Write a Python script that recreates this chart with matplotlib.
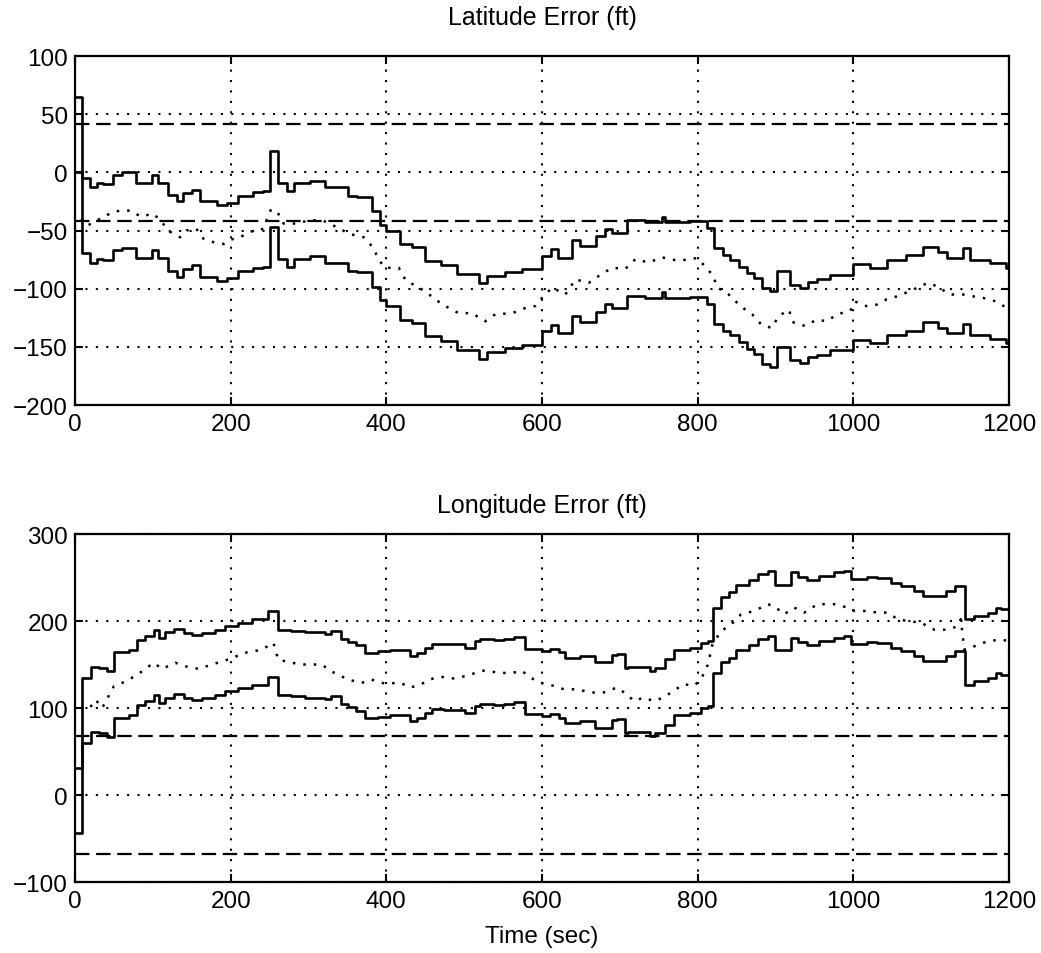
import numpy as np
import matplotlib
matplotlib.use('Agg')
import matplotlib.pyplot as plt

plt.rcParams['font.family'] = ['Liberation Sans', 'DejaVu Sans']

# ---- latitude: filter estimate (step held), sigma band, true-ish error (dotted)
lat_t = [0, 8.6, 19, 28, 36, 49, 60, 79, 99, 107, 120, 131, 139, 150, 161, 182, 195,
         210, 229, 242, 251, 261, 272, 281, 302, 321, 351, 362, 381, 392, 399, 418, 433,
         450, 470, 491, 519, 529, 553, 574, 600, 611, 621, 638, 649, 670, 681, 690, 709,
         732, 754, 758, 790, 812, 820.5, 833, 842, 852.6, 863, 872, 882, 893, 902, 919,
         932, 942, 953, 970, 1000, 1021, 1043, 1068, 1090, 1109, 1120, 1141, 1150, 1175,
         1196, 1200]
lat_est = [32.5, -37, -45.5, -42, -42.5, -34.5, -32.5, -41.5, -34.5, -41.5, -52, -57.5,
           -50.5, -47.5, -57.5, -60.5, -58.5, -52.5, -49.5, -48.5, -14.5, -42, -48.5, -42,
           -39.5, -45.5, -52.5, -53.5, -66, -77.5, -82.5, -94, -97, -108.5, -112.5, -120,
           -128, -121.5, -118.5, -115.5, -104, -98.5, -106, -91, -96, -87.5, -81, -84.5,
           -73.5, -75.5, -70.5, -75.5, -74.5, -80.5, -97.5, -103.5, -107.5, -113.5, -119,
           -123.5, -132, -134.5, -117.5, -129, -131.5, -126.5, -124.5, -120.5, -111.5,
           -114.5, -107.5, -103.5, -96.5, -101, -106, -97.5, -107.5, -110.5, -114.5, -114.5]
lat_sig = 32.5
lat_lim = 41.5

lat_err_t = [8, 16, 32, 49, 60, 73, 84, 101, 109, 122, 135, 143, 156, 165, 178, 191, 199,
             212, 225, 242, 251, 259, 268, 285, 302, 319, 336, 353, 371, 383, 391, 399,
             416, 425, 442, 455, 472, 493, 510, 527, 540, 562, 579, 591, 600, 613, 630,
             643, 660, 673, 690, 707, 720, 737, 754, 775, 799, 810, 820, 825, 838, 855,
             870, 882, 895, 904, 917, 923, 938, 953, 966, 979, 996, 1002, 1017, 1030,
             1043, 1056, 1073, 1090, 1098, 1111, 1124, 1141, 1154, 1167, 1184, 1197]
lat_err = [-40, -45.8, -40, -34, -32.7, -33, -38, -35.5, -41, -51, -55.8, -50, -48.5, -57,
           -60, -61.6, -58, -55.8, -51, -48.5, -32.7, -32.7, -44, -44, -41, -41.5, -47,
           -53, -55.8, -64.5, -76, -82, -82, -93, -99, -105, -113.6, -121, -121, -128,
           -122, -121, -116.5, -115, -108, -99, -105, -92, -95, -89, -82, -83, -74.6,
           -77.5, -73, -76, -73.7, -81, -89, -99, -103.7, -115, -122, -131, -133.7,
           -123.7, -118, -129, -132, -126.6, -128, -122, -119, -111, -115, -113.7, -109,
           -106.6, -102, -96.6, -95, -99.4, -105, -105, -106.6, -108, -111, -116.6]

# ---- longitude
lon_t = [0, 8.5, 20, 30.7, 41.4, 50, 69, 80, 90.5, 101, 107.5, 116, 126.8, 139.6, 150,
         163, 180, 193, 210, 227, 248, 261, 278, 295, 321, 329.5, 342, 351, 361.5, 372,
         389, 405, 431, 439, 450, 458.7, 473.7, 501.5, 514, 520.8, 538, 550.7, 563.6,
         578.6, 600, 610.7, 621.4, 630, 649, 668.5, 690, 696, 707, 711, 739, 745.6,
         758.5, 769, 790.6, 804, 813, 820, 830, 840.7, 849, 866, 877, 890, 899, 920,
         928.5, 941, 956, 975.6, 988, 997, 1018, 1031, 1048, 1061, 1078, 1089, 1119,
         1130, 1143, 1155, 1172.6, 1183, 1190, 1200]
lon_est = [-6.5, 97, 109.5, 108.5, 104.5, 126.5, 129, 140.5, 145, 152.5, 143.5, 149.5,
           153.5, 149, 146.5, 149, 152.5, 156.5, 160.5, 164.5, 173.5, 152.5, 151, 149.5,
           148, 151, 142, 138.5, 134.5, 126, 127.5, 129.3, 122.5, 125.5, 131.5, 136,
           135.5, 131.5, 140, 142, 140.5, 142, 144, 130.5, 128.5, 130.5, 126.5, 120.5,
           122.5, 115, 123.5, 124.5, 108.5, 110, 105.5, 108.5, 118.5, 129.3, 131.5, 137.5,
           140, 178, 190.3, 195.3, 204, 209.5, 216.5, 220.5, 204, 218.5, 213.5, 209.5,
           214.5, 218.5, 220.5, 210.5, 213.5, 212.5, 206.5, 203, 197, 191.5, 197, 203,
           164.5, 168.3, 172, 178, 176, 176]
lon_sig = 37.5
lon_lim = 67.5

lon_err_t = [8, 18, 26.5, 35, 50, 60.6, 73, 86, 101, 112, 129, 141.7, 159, 176, 197, 218.5,
             240, 255, 261, 278, 295, 317, 329.5, 351, 368, 380.7, 398, 418, 431, 443.7,
             456.5, 469, 486.5, 503.6, 516.5, 525, 542, 559, 574, 585, 598, 615, 628, 645,
             662, 679, 696, 709, 718, 730.6, 743.5, 756, 769, 782, 795, 804, 813, 819, 830,
             843, 855.7, 873, 890, 898.5, 911, 924, 937, 954, 975.6, 992.7, 1001, 1014,
             1031, 1044, 1057, 1070, 1087, 1104, 1121, 1134, 1138, 1142.6, 1155.5, 1172.6,
             1190, 1198]
lon_err = [100, 98.8, 109.6, 100, 125, 128.8, 134.6, 142, 152, 145, 152, 148, 145, 150,
           155.8, 163.5, 167, 175, 155.8, 152, 150, 150, 142, 132.7, 128.8, 132.7, 128,
           129, 123.5, 127, 133, 136, 134, 137, 141, 142.9, 141, 139.8, 142.9, 135, 129,
           125.5, 121.6, 121.6, 117.8, 117.8, 123.5, 115.8, 108, 112, 108, 112, 119.7,
           127.4, 125.5, 132.4, 149.8, 173, 188.4, 196, 207.7, 211.6, 219.3, 217, 207.7,
           215.4, 209.7, 219.3, 219.3, 215.4, 211.6, 211.6, 209.7, 209.7, 202, 200, 198,
           190, 190, 194, 202, 167, 171, 176.8, 178.8, 177]

panels = [
    ('Latitude Error (ft)', lat_t, lat_est, lat_sig, lat_lim, lat_err_t, lat_err,
     (-200, 100), np.arange(-200, 101, 50), 23),
    ('Longitude Error (ft)', lon_t, lon_est, lon_sig, lon_lim, lon_err_t, lon_err,
     (-100, 300), np.arange(-100, 301, 100), 16),
]

fig = plt.figure(figsize=(10.41, 9.54), dpi=100)
rects = [[0.072, 0.5744, 0.8973, 0.3658], [0.072, 0.0744, 0.8973, 0.3648]]

for rect, (title, t, est, sig, lim, et, ev, ylim, yt, tpad) in zip(rects, panels):
    ax = fig.add_axes(rect)
    est = np.array(est)
    ax.plot(t, est + sig, color='k', lw=1.9, drawstyle='steps-post', zorder=3)
    ax.plot(t, est - sig, color='k', lw=1.9, drawstyle='steps-post', zorder=3)
    ax.plot(et, ev, color='k', lw=1.8, linestyle=(0, (1, 3.2)), zorder=3)
    ax.axhline(lim, color='k', lw=1.6, linestyle=(0, (6.5, 3)), zorder=2)
    ax.axhline(-lim, color='k', lw=1.6, linestyle=(0, (6.5, 3)), zorder=2)

    ax.set_xlim(0, 1200)
    ax.set_ylim(*ylim)
    ax.set_xticks(np.arange(0, 1201, 200))
    ax.set_yticks(yt)
    ax.grid(True, color='k', lw=1.5, linestyle=(0, (1, 4)))
    ax.tick_params(direction='in', top=True, right=True, length=6, width=1.5,
                   labelsize=17.5)
    ax.tick_params(axis='y', pad=5)
    ax.tick_params(axis='x', pad=6)
    for s in ax.spines.values():
        s.set_linewidth(1.6)
    ax.set_title(title, fontsize=18, pad=tpad)

ax.set_xlabel('Time (sec)', fontsize=17.5, labelpad=9)

fig.savefig('out.png', dpi=100)
